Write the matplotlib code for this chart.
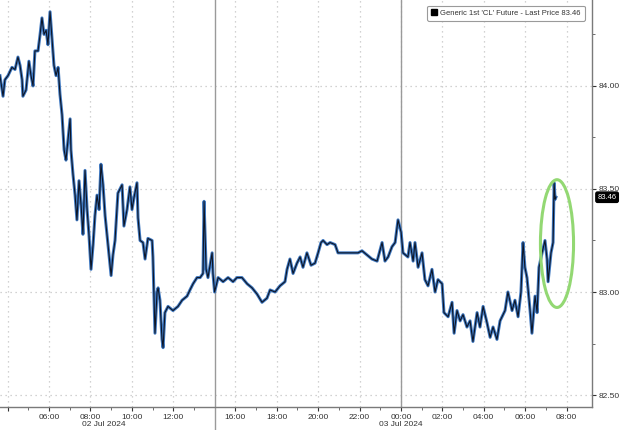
import numpy as np
import matplotlib
matplotlib.use("Agg")
import matplotlib.pyplot as plt
from matplotlib.lines import Line2D
from matplotlib.patches import Ellipse
import matplotlib.transforms as mtransforms

plt.rcParams['font.family'] = ['Liberation Sans', 'DejaVu Sans']

# hours since 02 Jul 2024 00:00 (values > 24 are on 03 Jul)
hours = [3.63, 3.78, 3.87, 4.02, 4.21, 4.36, 4.50, 4.60, 4.70, 4.74, 4.89, 5.03, 5.13, 5.23, 5.32,
         5.47, 5.57, 5.66, 5.76, 5.86, 5.95, 6.05, 6.15, 6.24, 6.34, 6.44, 6.53, 6.63, 6.73, 6.82,
         6.92, 7.02, 7.06, 7.16, 7.26, 7.35, 7.45, 7.55, 7.64, 7.74, 7.84, 7.93, 8.03, 8.13, 8.22,
         8.32, 8.42, 8.51, 8.61, 8.71, 8.80, 8.90, 9.00, 9.09, 9.19, 9.33, 9.53, 9.62, 9.77, 9.91,
         10.01, 10.11, 10.25, 10.30, 10.40, 10.54, 10.64, 10.78, 10.98, 11.02, 11.12, 11.22, 11.27,
         11.36, 11.46, 11.51, 11.60, 11.75, 11.99, 12.23, 12.43, 12.67, 12.81, 12.96, 13.15, 13.30,
         13.44, 13.49, 13.59, 13.68, 13.88, 13.92, 14.00,
         15.17, 15.41, 15.65, 15.89, 16.08, 16.32, 16.57, 16.81, 17.05, 17.29, 17.53, 17.68, 17.92,
         18.16, 18.40, 18.50, 18.64, 18.79, 18.98, 19.13, 19.27, 19.46, 19.66, 19.85, 20.00, 20.14,
         20.24, 20.43, 20.58, 20.82, 20.96, 21.20, 21.45, 21.69, 21.93, 22.12, 22.36, 22.60, 22.85,
         23.09, 23.23, 23.38, 23.57, 23.72, 23.86, 24.01, 24.10, 24.34, 24.44, 24.59, 24.68, 24.83,
         25.02, 25.16, 25.31, 25.50, 25.65, 25.79, 25.99, 26.08, 26.28, 26.47, 26.57, 26.71, 26.86,
         27.00, 27.19, 27.34, 27.48, 27.68, 27.82, 27.97, 28.16, 28.31, 28.45, 28.64, 28.79, 29.03,
         29.17, 29.37, 29.51, 29.66, 29.80, 29.90, 29.99, 30.09, 30.24, 30.33, 30.48, 30.58, 30.67,
         30.82, 30.96, 31.06, 31.11, 31.25, 31.35, 31.40, 31.45, 31.49]

price = [84.05, 83.95, 84.03, 84.05, 84.09, 84.08, 84.14, 84.10, 84.03, 83.95, 83.98, 84.12, 84.05, 84.00, 84.17,
         84.17, 84.25, 84.33, 84.25, 84.27, 84.20, 84.36, 84.22, 84.10, 84.05, 84.09, 83.96, 83.86, 83.69, 83.64,
         83.74, 83.84, 83.69, 83.57, 83.47, 83.35, 83.54, 83.42, 83.28, 83.59, 83.40, 83.28, 83.11, 83.23, 83.37,
         83.47, 83.40, 83.62, 83.52, 83.37, 83.28, 83.18, 83.08, 83.18, 83.25, 83.48, 83.52, 83.32, 83.40, 83.51,
         83.40, 83.46, 83.53, 83.36, 83.25, 83.24, 83.16, 83.26, 83.25, 83.17, 82.80, 83.00, 83.02,
         82.96, 82.77, 82.73, 82.90, 82.93, 82.91, 82.93, 82.96, 82.98, 83.01, 83.04, 83.07, 83.07,
         83.09, 83.44, 83.11, 83.07, 83.19, 83.09, 83.00,
         83.07, 83.05, 83.07, 83.05, 83.07, 83.07, 83.04, 83.02, 82.99, 82.95, 82.97, 83.01, 83.00,
         83.03, 83.05, 83.11, 83.16, 83.09, 83.14, 83.17, 83.12, 83.19, 83.13, 83.14, 83.19, 83.24,
         83.25, 83.23, 83.24, 83.23, 83.19, 83.19, 83.19, 83.19, 83.19, 83.20, 83.18, 83.16, 83.15,
         83.24, 83.15, 83.17, 83.22, 83.24, 83.35, 83.29, 83.19, 83.17, 83.24, 83.15, 83.24, 83.12,
         83.19, 83.06, 83.03, 83.11, 83.00, 83.06, 83.04, 82.90, 82.88, 82.95, 82.80, 82.91, 82.86,
         82.89, 82.83, 82.86, 82.76, 82.90, 82.83, 82.93, 82.85, 82.78, 82.83, 82.77, 82.86, 82.91,
         83.00, 82.91, 82.96, 82.88, 83.00, 83.24, 83.12, 83.07, 82.91, 82.80, 82.98, 82.90, 83.12,
         83.19, 83.25, 83.16, 83.05, 83.19, 83.24, 83.53, 83.45, 83.46]

tick_hours = [6, 8, 10, 12, 16, 18, 20, 22, 24, 26, 28, 30, 32]
grid_hours = [4] + tick_hours
break_hour = 14          # session break 14:00-15:00 removed from the axis
day_hour = 24
date_labels = [("02 Jul 2024", 8.66), ("03 Jul 2024", 24.0)]
series_name = "Generic 1st 'CL' Future - Last Price"


def to_pos(h):
    h = np.asarray(h, dtype=float)
    return np.where(h <= break_hour, h, h - 1.0)


x = to_pos(hours)
y = np.asarray(price)

fig = plt.figure(figsize=(6.2, 4.3), dpi=100)
ax = fig.add_axes([0.0, 0.0535, 0.9548, 0.9465])

ax.plot(x, y, color='#3f78c0', lw=2.2, zorder=3)
ax.plot(x, y, color='#0d1526', lw=0.8, zorder=4)

ax.set_xlim(3.633, 32.23)
ax.set_ylim(82.442, 84.417)

# x ticks
ax.set_xticks(to_pos(grid_hours))
ax.set_xticklabels([""] + ["%02d:00" % (h % 24) for h in tick_hours])
ax.set_xticks(to_pos([h for h in range(5, 33, 2) if h not in (15,)]), minor=True)

# y axis on right
ax.yaxis.tick_right()
ax.set_yticks([82.5, 83.0, 83.5, 84.0])
ax.set_yticklabels(["82.50", "83.00", "83.50", "84.00"])
ax.set_yticks([82.75, 83.25, 83.75, 84.25], minor=True)

ax.tick_params(axis='both', which='major', labelsize=6, colors='#333333', length=3, width=0.8, pad=2)
ax.tick_params(axis='x', which='minor', length=2, width=0.6, colors='#555555')
ax.tick_params(axis='y', which='minor', length=2, width=0.6, colors='#555555')

ax.grid(True, which='major', color='#c4c4c4', lw=0.9, linestyle=(0, (1, 3)))

for s in ['top', 'left']:
    ax.spines[s].set_visible(False)
for s in ['right', 'bottom']:
    ax.spines[s].set_color('#7a7a7a')
    ax.spines[s].set_linewidth(1.0)

# session break and day divider
ax.axvline(to_pos(break_hour), color='#9a9a9a', lw=1.0, ymin=-0.06, clip_on=False, zorder=2)
ax.axvline(to_pos(day_hour), color='#9a9a9a', lw=1.0, zorder=2)

# date labels
trans = mtransforms.blended_transform_factory(ax.transData, ax.transAxes)
for lab, h in date_labels:
    ax.text(float(to_pos(h)), -0.043, lab, transform=trans, ha='center', va='center',
            fontsize=6, color='#333333')

# legend
last = y[-1]
handle = Line2D([], [], marker='s', color='black', linestyle='none', markersize=5)
leg = ax.legend([handle], ["%s %.2f" % (series_name, last)], loc='upper right',
                bbox_to_anchor=(0.994, 0.995), fontsize=5.5, frameon=True, fancybox=True,
                handlelength=0.8, handletextpad=0.4, borderpad=0.5, labelcolor='#333333')
leg.get_frame().set_edgecolor('#9a9a9a')
leg.get_frame().set_linewidth(0.8)
leg.get_frame().set_alpha(1)

# last price tag
ax.annotate("%.2f" % last, xy=(1.0, last), xycoords=('axes fraction', 'data'),
            xytext=(4, 0), textcoords='offset points', ha='left', va='center',
            fontsize=5.5, color='white', annotation_clip=False,
            bbox=dict(boxstyle='round,pad=0.22', fc='black', ec='black'))

# green highlight ellipse around the final move
tail_x = x[-12:]
tail_y = y[-12:]
cx = float(tail_x.max()) + 0.05
cy = (tail_y.max() + tail_y.min()) / 2 + 0.02
ell = Ellipse((cx, cy), width=1.6, height=0.62, fill=False,
              edgecolor='#93d873', lw=2.2, zorder=5)
ax.add_patch(ell)

fig.savefig("out.png", dpi=100)
